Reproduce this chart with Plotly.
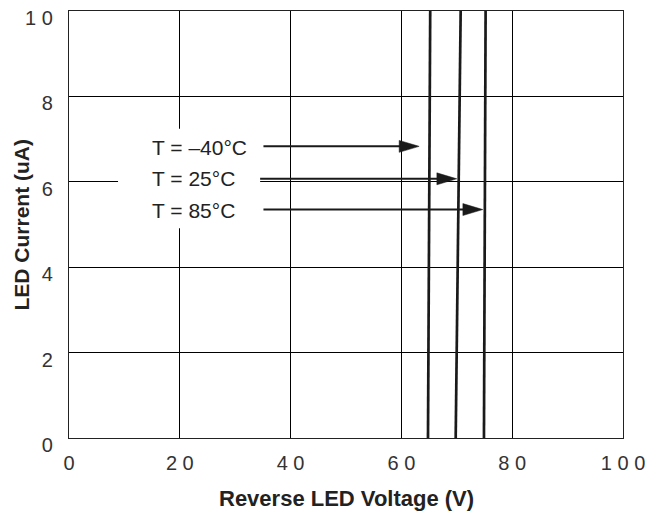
import plotly.graph_objects as go

# ---- data ----
x_ticks = [0, 20, 40, 60, 80, 100]
x_tick_labels = ["0", "2 0", "4 0", "6 0", "8 0", "1 0 0"]
y_ticks = [0, 2, 4, 6, 8, 10]
y_tick_labels = ["0", "2", "4", "6", "8", "1 0"]

current_ua = [0, 10]
v_m40 = [64.8, 65.2]
v_25 = [69.8, 70.7]
v_85 = [74.9, 75.2]

labels = ["T = \u201340\u00b0C", "T = 25\u00b0C", "T = 85\u00b0C"]
label_x = [14.6, 14.6, 14.6]
label_y = [6.81, 6.07, 5.33]
arrow_start_x = [35.1, 34.5, 35.1]
arrow_tip_x = [63.2, 70.0, 74.7]
arrow_y = [6.83, 6.07, 5.35]

# ---- style ----
FONT = "Liberation Sans, Arial, Helvetica"
head_len = 3.6    # x data units (~20 px)
head_half = 0.14  # y data units (~6 px)
INK = "#1a1a1a"

fig = go.Figure()

for xs in (v_m40, v_25, v_85):
    fig.add_trace(go.Scatter(x=xs, y=current_ua, mode="lines",
                             line=dict(color=INK, width=2.7),
                             showlegend=False, hoverinfo="skip"))

# white box behind labels (hides the grid there)
fig.add_shape(type="rect", x0=8.85, x1=34.5, y0=4.91, y1=7.24,
              fillcolor="white", line=dict(width=0), layer="between")

for sx, tx, ay in zip(arrow_start_x, arrow_tip_x, arrow_y):
    fig.add_trace(go.Scatter(x=[sx, tx - head_len + 0.3], y=[ay, ay], mode="lines",
                             line=dict(color=INK, width=2),
                             showlegend=False, hoverinfo="skip"))
    fig.add_trace(go.Scatter(x=[tx - head_len, tx, tx - head_len, tx - head_len],
                             y=[ay + head_half, ay, ay - head_half, ay + head_half],
                             mode="lines", fill="toself", fillcolor=INK,
                             line=dict(color=INK, width=0.5),
                             showlegend=False, hoverinfo="skip"))

for t, lx, ly in zip(labels, label_x, label_y):
    fig.add_annotation(x=lx, y=ly, text=t, showarrow=False, xanchor="left",
                       yanchor="middle",
                       font=dict(family=FONT, size=21, color="#222"))

# axis titles
fig.add_annotation(xref="paper", yref="paper", x=0.5, y=0, yshift=-60,
                   xanchor="center", yanchor="middle", showarrow=False,
                   text="<b>Reverse LED Voltage (V)</b>",
                   font=dict(family=FONT, size=22, color="#222"))
fig.add_annotation(xref="paper", yref="paper", x=0, y=0.5, xshift=-48,
                   xanchor="center", yanchor="middle", showarrow=False,
                   textangle=-90, text="<b>LED Current (uA)</b>",
                   font=dict(family=FONT, size=21, color="#222"))

axis_font = dict(family=FONT, size=20, color="#333")
fig.update_xaxes(range=[0, 100], tickvals=x_ticks, ticktext=x_tick_labels,
                 showgrid=True, gridcolor="black", gridwidth=1,
                 showline=True, linecolor="#222", linewidth=1.2, mirror=True,
                 ticks="", tickfont=axis_font, ticklabelstandoff=7,
                 ticklabeloverflow="allow",
                 zeroline=False, automargin=False)
fig.update_yaxes(range=[0, 10], tickvals=y_ticks, ticktext=y_tick_labels,
                 showgrid=True, gridcolor="black", gridwidth=1,
                 showline=True, linecolor="#222", linewidth=1.2, mirror=True,
                 ticks="", tickfont=axis_font, ticklabelstandoff=11,
                 ticklabelshift=7, ticklabeloverflow="allow",
                 zeroline=False, automargin=False)

# page body adds an 8px offset; figure sized to fill the rest of the window
fig.update_layout(width=645, height=504,
                  margin=dict(l=61, r=30, t=3, b=74),
                  plot_bgcolor="white", paper_bgcolor="white")

fig.write_html("out.html")
